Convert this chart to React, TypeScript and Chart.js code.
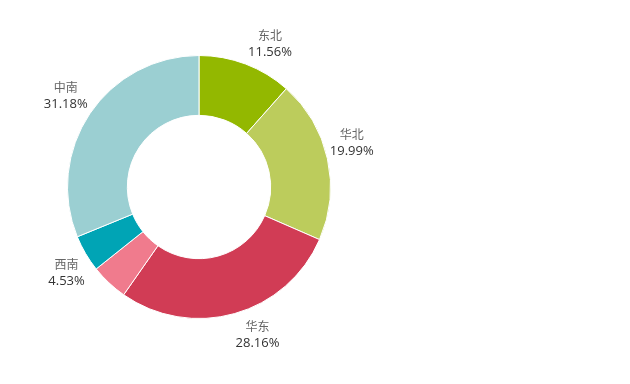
import React, { useEffect, useRef } from "react";
import { Chart, registerables } from "chart.js";

Chart.register(...registerables);

const categories = ["东北", "华北", "华东", "西北", "西南", "中南"];
const values = [11.56, 19.99, 28.16, 4.58, 4.53, 31.18];
const showLabel = [true, true, true, false, true, true];
const colors = ["#93b800", "#bccc5c", "#d13c55", "#f07b8d", "#00a4b5", "#9bcfd2"];

// small per-label nudges (best-fit label placement, style only)
const labelNudge: [number, number][] = [
  [14, 6.5],
  [-4, -10.5],
  [15, -7.5],
  [0, 0],
  [6, 4],
  [0, -2],
];

const labelPlugin = {
  id: "outerLabels",
  afterDatasetsDraw(chart: any) {
    const ctx = chart.ctx;
    const meta = chart.getDatasetMeta(0);
    meta.data.forEach((arc: any, i: number) => {
      if (!showLabel[i]) return;
      const { x, y, startAngle, endAngle, outerRadius } = arc.getProps(
        ["x", "y", "startAngle", "endAngle", "outerRadius"],
        true
      );
      const mid = (startAngle + endAngle) / 2;
      const r = outerRadius + 29;
      const cx = x + Math.cos(mid) * r + labelNudge[i][0];
      const cy = y + Math.sin(mid) * r + labelNudge[i][1];
      ctx.save();
      ctx.textAlign = "center";
      ctx.textBaseline = "middle";
      ctx.fillStyle = "#666";
      ctx.font = '12px "Noto Sans CJK SC"';
      ctx.fillText(categories[i], cx, cy - 8);
      ctx.fillStyle = "#333";
      ctx.font = '13px "Open Sans", "DejaVu Sans", sans-serif';
      ctx.fillText(values[i].toFixed(2) + "%", cx, cy + 9);
      ctx.restore();
    });
  },
};

export default function App() {
  const ref = useRef<HTMLCanvasElement>(null);
  useEffect(() => {
    if (!ref.current) return;
    const chart = new Chart(ref.current, {
      type: "doughnut",
      data: {
        labels: categories,
        datasets: [
          {
            data: values,
            backgroundColor: colors,
            borderColor: "#ffffff",
            borderWidth: 1,
          },
        ],
      },
      options: {
        responsive: false,
        animation: false,
        cutout: "54.5%",
        layout: { padding: { left: 67, right: 299, top: 55, bottom: 65 } },
        plugins: {
          legend: { display: false },
          tooltip: { enabled: false },
        },
      },
      plugins: [labelPlugin],
    });
    return () => chart.destroy();
  }, []);
  return (
    <div style={{ position: "fixed", left: 0, top: 0, width: 630, height: 384, background: "#fff" }}>
      <canvas ref={ref} width={630} height={384} style={{ display: "block" }} />
    </div>
  );
}
